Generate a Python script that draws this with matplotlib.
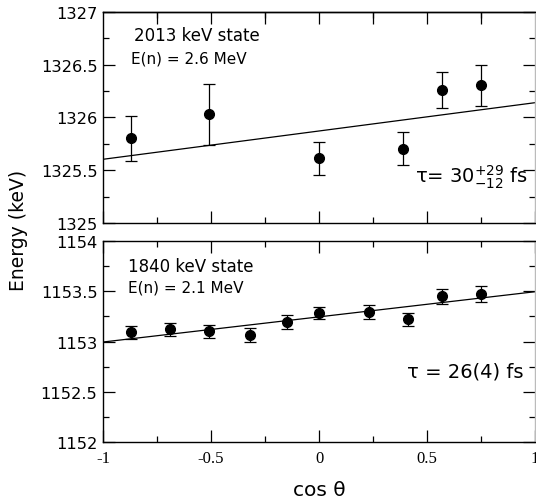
import numpy as np
import matplotlib
matplotlib.use('Agg')
import matplotlib.pyplot as plt
from matplotlib.ticker import MultipleLocator

# 2013 keV state, E(n) = 2.6 MeV
cos_top = [-0.87, -0.51, 0.0, 0.39, 0.57, 0.75]
e_top = [1325.81, 1326.03, 1325.62, 1325.70, 1326.26, 1326.31]
err_top_lo = [0.22, 0.29, 0.16, 0.15, 0.17, 0.20]
err_top_hi = [0.20, 0.29, 0.15, 0.16, 0.17, 0.19]
fit_top = [1325.605, 1326.14]

# 1840 keV state, E(n) = 2.1 MeV
cos_bot = [-0.87, -0.69, -0.51, -0.32, -0.15, 0.0, 0.23, 0.41, 0.57, 0.75]
e_bot = [1153.09, 1153.12, 1153.10, 1153.065, 1153.19, 1153.28, 1153.295, 1153.22, 1153.45, 1153.47]
err_bot = [0.06, 0.06, 0.065, 0.065, 0.07, 0.06, 0.07, 0.065, 0.075, 0.08]
fit_bot = [1152.995, 1153.497]

fit_x = [-1, 1]

plt.rcParams['font.family'] = 'DejaVu Sans'
plt.rcParams['mathtext.fontset'] = 'dejavusans'

fig = plt.figure(figsize=(5.36, 5.02), dpi=100)
ax1 = fig.add_axes([0.1922, 0.5532, 0.806, 0.4215])
ax2 = fig.add_axes([0.1922, 0.1181, 0.806, 0.3992])


def style(ax, ylo, yhi):
    ax.set_xlim(-1, 1)
    ax.set_ylim(ylo, yhi)
    ax.xaxis.set_major_locator(MultipleLocator(0.5))
    ax.xaxis.set_minor_locator(MultipleLocator(0.25))
    ax.yaxis.set_major_locator(MultipleLocator(0.5))
    ax.yaxis.set_minor_locator(MultipleLocator(0.25))
    ax.tick_params(which='both', direction='in', top=True, right=True, width=0.9)
    ax.tick_params(which='major', length=8.5)
    ax.tick_params(which='minor', length=4.5)
    ax.tick_params(axis='y', labelsize=11.7, pad=4)
    ax.yaxis.set_major_formatter(plt.FuncFormatter(lambda v, p: ('%g' % v)))
    for s in ax.spines.values():
        s.set_linewidth(1.0)
    ax.spines['right'].set_color('#bbbbbb')


style(ax1, 1325, 1327)
style(ax2, 1152, 1154)

ax1.tick_params(axis='x', labelbottom=False, top=False)
sec = ax1.secondary_xaxis('top')
sec.set_xticks(np.arange(-0.75, 1.0, 0.25))
sec.tick_params(direction='in', length=8.5, width=0.9, labeltop=False)
sec.spines['top'].set_linewidth(1.0)

ax1.plot(fit_x, fit_top, color='black', lw=0.9)
ax1.errorbar(cos_top, e_top, yerr=[err_top_lo, err_top_hi], fmt='o', color='black',
             ms=7, elinewidth=0.9, capsize=4.5, capthick=0.9)
ax1.text(0.071, 0.89, '2013 keV state', transform=ax1.transAxes, fontsize=12, va='center')
ax1.text(0.064, 0.783, 'E(n) = 2.6 MeV', transform=ax1.transAxes, fontsize=11, va='center')
ax1.text(0.722, 0.224, 'τ= 30$^{+29}_{\\mathrm{-}12}$ fs', transform=ax1.transAxes,
         fontsize=14, va='center')

ax2.plot(fit_x, fit_bot, color='black', lw=0.9)
ax2.errorbar(cos_bot, e_bot, yerr=err_bot, fmt='o', color='black',
             ms=7, elinewidth=0.9, capsize=4.5, capthick=0.9)
ax2.text(0.058, 0.878, '1840 keV state', transform=ax2.transAxes, fontsize=12, va='center')
ax2.text(0.058, 0.770, 'E(n) = 2.1 MeV', transform=ax2.transAxes, fontsize=11, va='center')
ax2.text(0.703, 0.353, 'τ = 26(4) fs', transform=ax2.transAxes, fontsize=14, va='center')

ax2.tick_params(axis='x', labelsize=12, pad=6)
ax2.set_xticks([-1, -0.5, 0, 0.5, 1])
ax2.set_xticklabels(['-1', '-0.5', '0', '0.5', '1'], fontfamily='Liberation Serif')

ax2.set_xlabel('cos θ', fontsize=14.5, labelpad=10)
fig.text(0.035, 0.54, 'Energy (keV)', rotation=90, fontsize=13.5, ha='center', va='center')

fig.savefig('out.png', dpi=100)
